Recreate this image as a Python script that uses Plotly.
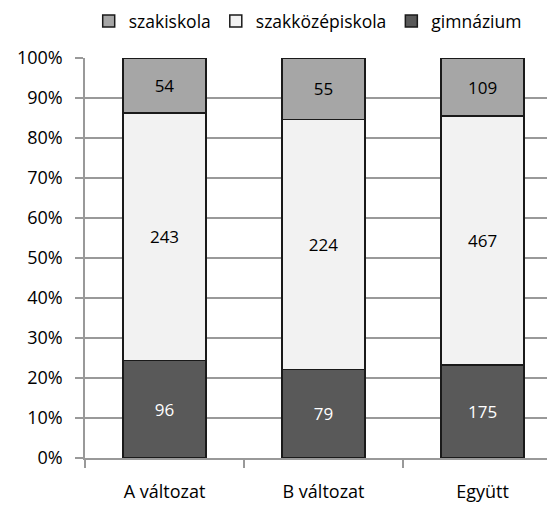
import plotly.graph_objects as go

# categories and raw counts per school type
categories = ["A változat", "B változat", "Együtt"]
gimnazium = [96, 79, 175]
szakkozep = [243, 224, 467]
szakiskola = [54, 55, 109]

series = [
    ("gimnázium", gimnazium, "#595959", "white"),
    ("szakközépiskola", szakkozep, "#f2f2f2", "black"),
    ("szakiskola", szakiskola, "#a6a6a6", "black"),
]

fig = go.Figure()
for name, vals, color, txtcolor in series:
    fig.add_trace(go.Bar(
        x=categories, y=vals, name=name,
        text=[str(v) for v in vals],
        textposition="inside", insidetextanchor="middle",
        textfont=dict(size=17, color=txtcolor),
        marker=dict(color=color, line=dict(color="#1a1a1a", width=1.5)),
        width=0.52,
        hoverinfo="skip",
    ))

font = "'Open Sans', sans-serif"
# page body has an 8px margin, so the figure is shifted left/up to compensate
fig.update_layout(
    width=555, height=506,
    barmode="stack", barnorm="percent",
    margin=dict(l=77, r=0, t=50, b=56, autoexpand=False),
    paper_bgcolor="white", plot_bgcolor="white",
    font=dict(family=font, size=18, color="black"),
    showlegend=True,
    legend=dict(orientation="h", traceorder="reversed",
                xref="container", x=0.54, xanchor="center",
                yref="container", y=0.974, yanchor="middle",
                font=dict(size=17.5), itemwidth=30,
                tracegroupgap=0),
    uniformtext=dict(minsize=17, mode="show"),
)
fig.update_xaxes(
    range=[-0.5, 2.506], tickson="boundaries",
    ticks="outside", ticklen=8, tickcolor="#999999", tickwidth=1.5,
    showline=True, linecolor="#999999", linewidth=1.5,
    showgrid=False, ticklabelstandoff=17,
)
fig.update_yaxes(
    range=[0, 100], dtick=10, ticksuffix="%",
    ticks="outside", ticklen=8, tickcolor="#999999", tickwidth=1.5,
    showline=True, linecolor="#999999", linewidth=1.5,
    showgrid=True, gridcolor="#999999", gridwidth=1.5,
    zeroline=False, ticklabelstandoff=9,
)

fig.write_html("out.html")
